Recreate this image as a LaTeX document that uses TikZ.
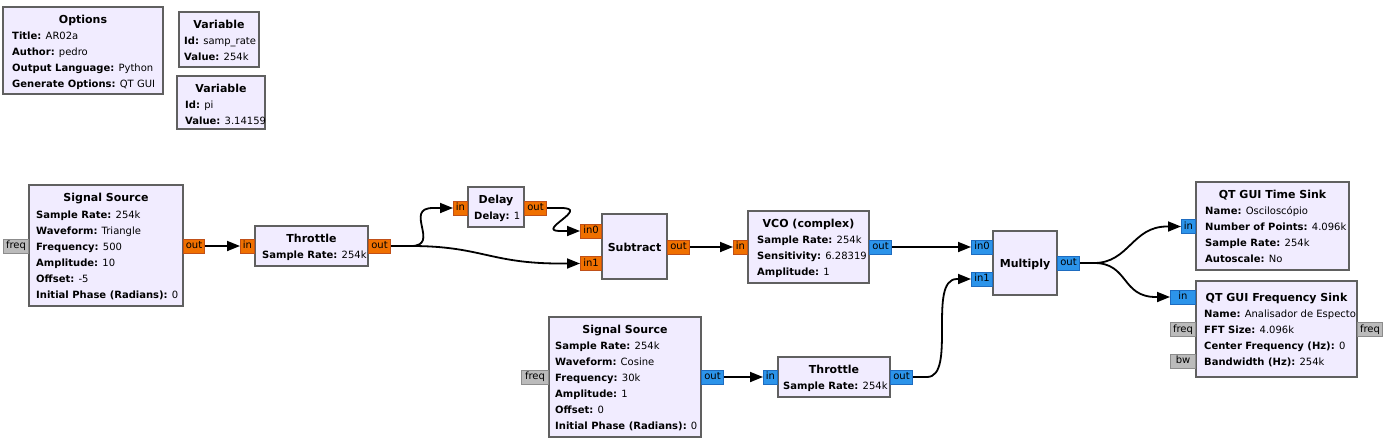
\documentclass[tikz,border=0pt]{standalone}
\usepackage{fontspec}
\setmainfont{DejaVu Sans}
\usetikzlibrary{arrows.meta,calc}
\definecolor{blkfill}{HTML}{F1ECFF}
\definecolor{blkdraw}{HTML}{606060}
\definecolor{fltfill}{HTML}{F07000}
\definecolor{fltdraw}{HTML}{C05018}
\definecolor{cpxfill}{HTML}{2C94EA}
\definecolor{cpxdraw}{HTML}{1E6CC0}
\definecolor{msgfill}{HTML}{BBBBBB}
\definecolor{msgdraw}{HTML}{8C8C8C}
\newcommand\grcbox[5]{\node[blk,minimum width={#4-#2},minimum height={#5-#3}] (#1) at ({(#2+#4)/2},{(#3+#5)/2}) {};}
\newcommand\pin[6]{\node[#5,minimum width=#4,anchor=east] (#1) at (#2,#3) {#6};}
\newcommand\pout[6]{\node[#5,minimum width=#4,anchor=west] (#1) at (#2,#3) {#6};}
\begin{document}
\begin{tikzpicture}[x=1pt,y=-1pt,
  font=\fontsize{10}{12}\selectfont,
  blk/.style={draw=blkdraw,fill=blkfill,line width=2pt,inner sep=0pt},
  ttl/.style={font=\fontsize{11}{13}\selectfont\bfseries,anchor=base,inner sep=0pt},
  prm/.style={anchor=base west,inner sep=0pt},
  port/.style={line width=1pt,inner sep=0pt,minimum height=14,text height=7.5,text depth=2},
  flt/.style={port,fill=fltfill,draw=fltdraw},
  cpx/.style={port,fill=cpxfill,draw=cpxdraw},
  msg/.style={port,fill=msgfill,draw=msgdraw},
  conn/.style={line width=1.8pt,-{Triangle[length=13pt,width=10pt]}}]
\fill[white] (0,0) rectangle (1397,445);
\useasboundingbox (0,0) rectangle (1397,445);

% Options
\grcbox{opt}{3}{7}{163}{94}
\node[ttl] (optT) at (83,23) {Options};
\node[prm] (opt1) at (12,39) {\textbf{Title:} AR02a};
\node[prm] (opt2) at (12,55) {\textbf{Author:} pedro};
\node[prm] (opt3) at (12,71) {\textbf{Output Language:} Python};
\node[prm] (opt4) at (12,87) {\textbf{Generate Options:} QT GUI};

% Variables
\grcbox{var1}{179}{12}{259}{67}
\node[ttl] (var1T) at (219,28) {Variable};
\node[prm] (var1a) at (184,44) {\textbf{Id:} samp\_rate};
\node[prm] (var1b) at (184,60) {\textbf{Value:} 254k};
\grcbox{var2}{177}{76}{265}{129}
\node[ttl] (var2T) at (221,92) {Variable};
\node[prm] (var2a) at (185,108) {\textbf{Id:} pi};
\node[prm] (var2b) at (185,124) {\textbf{Value:} 3.14159};

% Signal Source 1
\grcbox{ss1}{29}{185}{183}{306}
\node[ttl] (ss1T) at (106,201) {Signal Source};
\node[prm] (ss1a) at (36,218) {\textbf{Sample Rate:} 254k};
\node[prm] (ss1b) at (36,234) {\textbf{Waveform:} Triangle};
\node[prm] (ss1c) at (36,250) {\textbf{Frequency:} 500};
\node[prm] (ss1d) at (36,266) {\textbf{Amplitude:} 10};
\node[prm] (ss1e) at (36,282) {\textbf{Offset:} -5};
\node[prm] (ss1f) at (36,298) {\textbf{Initial Phase (Radians):} 0};
\pin{ss1freq}{29}{246}{25}{msg}{freq}
\pout{ss1out}{183}{246}{21}{flt}{out}

% Throttle 1
\grcbox{th1}{255}{226}{368}{266}
\node[ttl] (th1T) at (311.5,242) {Throttle};
\node[prm] (th1a) at (262,258) {\textbf{Sample Rate:} 254k};
\pin{th1in}{255}{246}{14}{flt}{in}
\pout{th1out}{368}{246}{22}{flt}{out}

% Delay
\grcbox{dl}{468}{187}{524}{227}
\node[ttl] (dlT) at (496,203) {Delay};
\node[prm] (dla) at (474,219) {\textbf{Delay:} 1};
\pin{dlin}{468}{208}{14}{flt}{in}
\pout{dlout}{524}{208}{22}{flt}{out}

% Subtract
\grcbox{sub}{602}{214}{667}{279}
\node[ttl] (subT) at (634.5,251) {Subtract};
\pin{subin0}{602}{231}{21}{flt}{in0}
\pin{subin1}{602}{263.5}{21}{flt}{in1}
\pout{subout}{667}{247}{22}{flt}{out}

% VCO
\grcbox{vco}{748}{211}{869}{283}
\node[ttl] (vcoT) at (808.5,227) {VCO (complex)};
\node[prm] (vcoa) at (757,243) {\textbf{Sample Rate:} 254k};
\node[prm] (vcob) at (757,259) {\textbf{Sensitivity:} 6.28319};
\node[prm] (vcoc) at (757,275) {\textbf{Amplitude:} 1};
\pin{vcoin}{748}{247}{14}{flt}{in}
\pout{vcoout}{869}{247}{22}{cpx}{out}

% Multiply
\grcbox{mul}{993}{231}{1057}{295}
\node[ttl] (mulT) at (1025,267) {Multiply};
\pin{mulin0}{993}{247}{21}{cpx}{in0}
\pin{mulin1}{993}{279}{21}{cpx}{in1}
\pout{mulout}{1057}{263}{22}{cpx}{out}

% QT GUI Time Sink
\grcbox{ts}{1196}{182}{1349}{270}
\node[ttl] (tsT) at (1272.5,198) {QT GUI Time Sink};
\node[prm] (tsa) at (1205,214) {\textbf{Name:} Osciloscópio};
\node[prm] (tsb) at (1205,230) {\textbf{Number of Points:} 4.096k};
\node[prm] (tsc) at (1205,246) {\textbf{Sample Rate:} 254k};
\node[prm] (tsd) at (1205,262) {\textbf{Autoscale:} No};
\pin{tsin}{1196}{226.5}{14}{cpx}{in}

% QT GUI Frequency Sink
\grcbox{fs}{1196}{281}{1357}{377}
\node[ttl] (fsT) at (1276.5,301) {QT GUI Frequency Sink};
\node[prm] (fsa) at (1204,317) {\textbf{Name:} Analisador de Especto};
\node[prm] (fsb) at (1204,333) {\textbf{FFT Size:} 4.096k};
\node[prm] (fsc) at (1204,349) {\textbf{Center Frequency (Hz):} 0};
\node[prm] (fsd) at (1204,365) {\textbf{Bandwidth (Hz):} 254k};
\pin{fsin}{1196}{297}{25}{cpx}{in}
\pin{fsfreq}{1196}{329.5}{25}{msg}{freq}
\pin{fsbw}{1196}{361}{25}{msg}{bw}
\pout{fsfreqo}{1357}{329.5}{25}{msg}{freq}

% Signal Source 2
\grcbox{ss2}{549}{317}{701}{437}
\node[ttl] (ss2T) at (625,333) {Signal Source};
\node[prm] (ss2a) at (555,349) {\textbf{Sample Rate:} 254k};
\node[prm] (ss2b) at (555,365) {\textbf{Waveform:} Cosine};
\node[prm] (ss2c) at (555,381) {\textbf{Frequency:} 30k};
\node[prm] (ss2d) at (555,397) {\textbf{Amplitude:} 1};
\node[prm] (ss2e) at (555,413) {\textbf{Offset:} 0};
\node[prm] (ss2f) at (555,429) {\textbf{Initial Phase (Radians):} 0};
\pin{ss2freq}{549}{377}{27}{msg}{freq}
\pout{ss2out}{701}{377}{22}{cpx}{out}

% Throttle 2
\grcbox{th2}{778}{357}{890}{397}
\node[ttl] (th2T) at (834,373) {Throttle};
\node[prm] (th2a) at (783,389) {\textbf{Sample Rate:} 254k};
\pin{th2in}{778}{377}{14}{cpx}{in}
\pout{th2out}{890}{377}{22}{cpx}{out}

% Connections
\draw[conn] (ss1out.east) -- (th1in.west);
\draw[conn] (th1out.east) -- ++(20,0) .. controls +(30,0) and +(-30,0) .. ($(dlin.west)+(-20,0)$) -- (dlin.west);
\draw[conn] (th1out.east) -- ++(20,0) .. controls +(70,0) and +(-70,0) .. ($(subin1.west)+(-20,0)$) -- (subin1.west);
\draw[conn] (dlout.east) -- ++(14,0) .. controls +(30,0) and +(-25,0) .. ($(subin0.west)+(-20,0)$) -- (subin0.west);
\draw[conn] (subout.east) -- (vcoin.west);
\draw[conn] (vcoout.east) -- (mulin0.west);
\draw[conn] (ss2out.east) -- (th2in.west);
\draw[conn] (th2out.east) -- ++(14,0) .. controls +(30,0) and +(-30,0) .. ($(mulin1.west)+(-14,0)$) -- (mulin1.west);
\draw[conn] (mulout.east) -- ++(14,0) .. controls +(35,0) and +(-35,0) .. ($(tsin.west)+(-14,0)$) -- (tsin.west);
\draw[conn] (mulout.east) -- ++(14,0) .. controls +(35,0) and +(-35,0) .. ($(fsin.west)+(-14,0)$) -- (fsin.west);
\end{tikzpicture}
\end{document}
